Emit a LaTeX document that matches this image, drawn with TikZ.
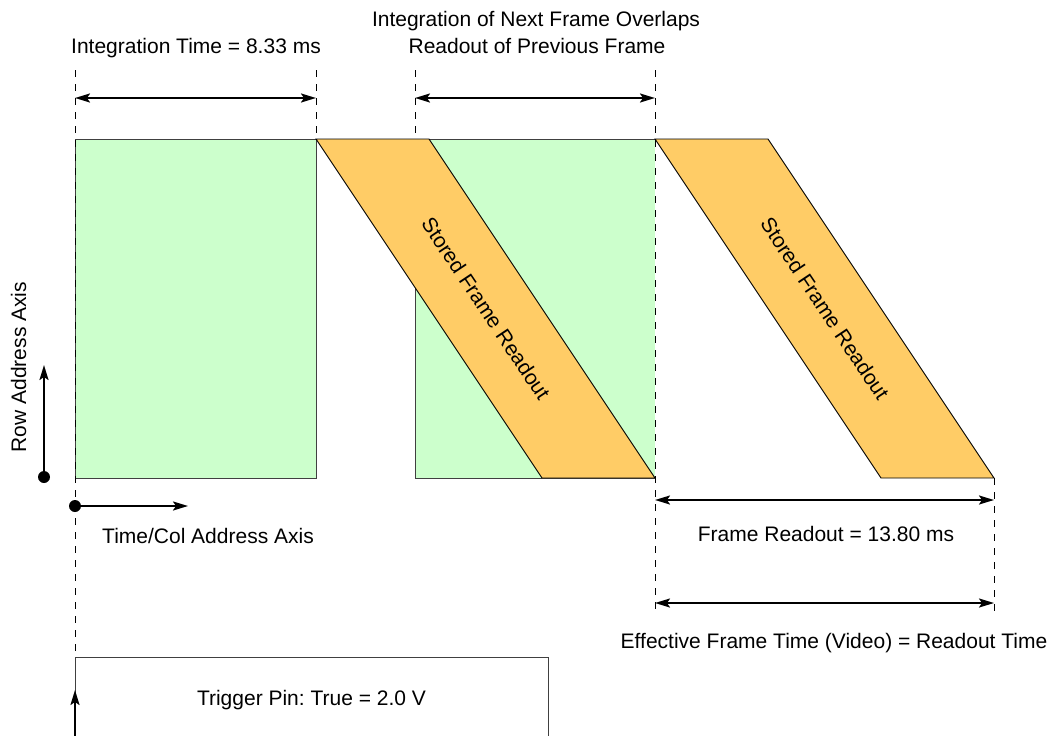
\documentclass[tikz,border=0pt]{standalone}
\usepackage{fontspec}
\setmainfont{Liberation Sans}
\frenchspacing
\usetikzlibrary{arrows.meta,positioning}
\definecolor{integgreen}{HTML}{CCFFCC}
\definecolor{readorange}{HTML}{FFCC66}
\definecolor{edgegray}{HTML}{404040}
\tikzset{
    integ/.style = {fill=integgreen,draw=edgegray,line width=1pt},
    band/.style = {fill=readorange,draw=black,line width=0.9pt,line join=miter},
    guide/.style = {draw=black,line width=1pt,dash pattern=on 7pt off 7pt},
    span/.style = {{Stealth[length=15pt,width=9pt,inset=3pt]}-{Stealth[length=15pt,width=9pt,inset=3pt]},line width=2pt},
    axisarr/.style = {-{Stealth[length=15pt,width=9pt,inset=3pt]},line width=2pt},
    lbl/.style = {font=\fontsize{21}{25}\selectfont,inner sep=0pt,text=black},
    dot/.style = {circle,fill=black,inner sep=0pt,minimum size=12pt},
    trig/.style = {rectangle,draw=edgegray,line width=1pt,fill=none,font=\fontsize{21}{25}\selectfont,inner sep=0pt}
}
\begin{document}
\begin{tikzpicture}[x=1pt,y=-1pt]
    \useasboundingbox (0,0) rectangle (1053,736);

    % integration windows and readout bands
    \draw[integ] (75,139) rectangle (316,478);
    \fill[integgreen] (415,139) rectangle (655,478);
    \draw[edgegray,line width=1pt] (655,139) -- (415,139) -- (415,478) -- (655,478);
    \draw[band] (316,139) -- (429,139) -- (655,478) -- (542,478) -- cycle;
    \draw[band] (655,139) -- (768,139) -- (994,478) -- (881,478) -- cycle;
    \node[lbl,rotate=-56.3] (band1) at (486,308.5) {Stored Frame Readout};
    \node[lbl,rotate=-56.3] (band2) at (825,308.5) {Stored Frame Readout};

    % guide lines
    \coordinate (g0top) at (75,70);   \coordinate (g0bot) at (75,657);
    \coordinate (g1top) at (316,70);  \coordinate (g1bot) at (316,139);
    \coordinate (g2top) at (415,70);  \coordinate (g2bot) at (415,139);
    \coordinate (g3top) at (655,70);  \coordinate (g3bot) at (655,615);
    \coordinate (g4top) at (994,478); \coordinate (g4bot) at (994,615);
    \draw[guide] (g0top) -- (g0bot);
    \draw[guide] (g1top) -- (g1bot);
    \draw[guide] (g2top) -- (g2bot);
    \draw[guide] (g3top) -- (g3bot);
    \draw[guide] (g4top) -- (g4bot);

    % spans
    \coordinate (intL) at (75,98);   \coordinate (intR) at (316,98);
    \coordinate (ovlL) at (415,98);  \coordinate (ovlR) at (655,98);
    \coordinate (roL)  at (655,500); \coordinate (roR)  at (994,500);
    \coordinate (efL)  at (655,603); \coordinate (efR)  at (994,603);
    \draw[span] (intL) -- (intR);
    \draw[span] (ovlL) -- (ovlR);
    \draw[span] (roL) -- (roR);
    \draw[span] (efL) -- (efR);

    \node[lbl,anchor=base] (inttime) at (196,53) {Integration Time = 8.33 ms};
    \node[lbl,anchor=base] (ovl1) at (536,26) {Integration of Next Frame Overlaps};
    \node[lbl,anchor=base] (ovl2) at (537,53) {Readout of Previous Frame};
    \node[lbl,anchor=base] (rotime) at (826,541) {Frame Readout = 13.80 ms};
    \node[lbl,anchor=base] (eftime) at (834,648) {Effective Frame Time (Video) = Readout Time};

    % axes
    \node[dot] (rowdot) at (44,477) {};
    \node[dot] (coldot) at (75,506) {};
    \coordinate (rowtip) at (44,365);
    \coordinate (coltip) at (188,506);
    \draw[axisarr] (rowdot.center) -- (rowtip);
    \draw[axisarr] (coldot.center) -- (coltip);
    \node[lbl,rotate=90,anchor=base] (rowlbl) at (26,367) {Row Address Axis};
    \node[lbl,anchor=base] (collbl) at (208,543) {Time/Col Address Axis};

    % trigger
    \node[trig,minimum width=473pt,minimum height=86pt] (trigger) at (311.5,700) {Trigger Pin: True = 2.0 V};
    \coordinate (trigfoot) at (75,745);
    \coordinate (trigtip) at (75,690);
    \draw[axisarr] (trigfoot) -- (trigtip);
\end{tikzpicture}
\end{document}
